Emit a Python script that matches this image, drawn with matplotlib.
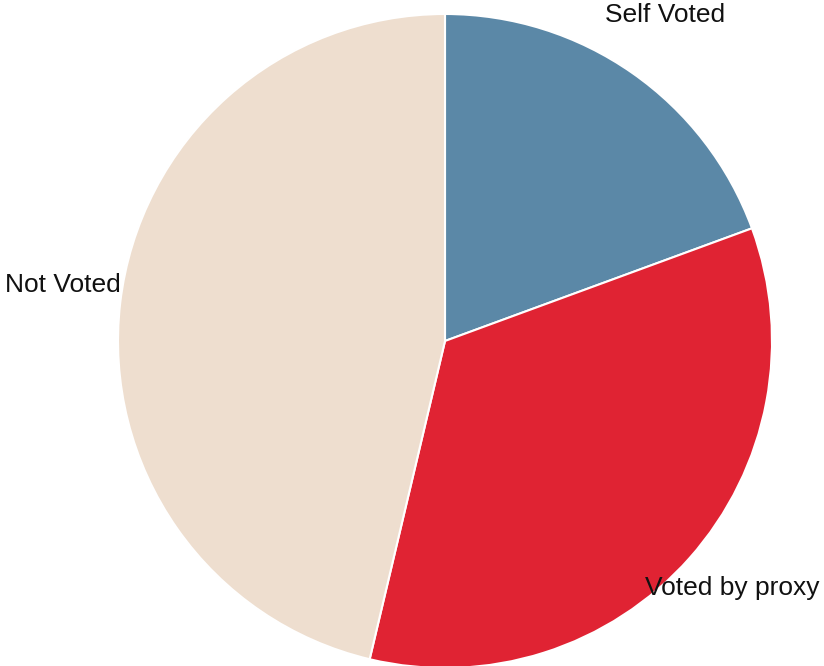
import matplotlib.pyplot as plt

# 数据
labels = ['Self Voted', 'Voted by proxy', 'Not Voted']
values = [19.4, 34.3, 46.3]
colors = ['#5b88a7', '#e02333', '#eedecf']

plt.rcParams['font.family'] = ['Liberation Sans', 'DejaVu Sans']

fig = plt.figure(figsize=(8.24, 6.66), dpi=100)
ax = fig.add_axes([0, 0, 1, 1])

# 饼图（从12点方向顺时针）
ax.pie(values, colors=colors, startangle=90, counterclock=False,
       center=(445, 325), radius=327, frame=True,
       wedgeprops=dict(edgecolor='white', linewidth=1.5))
ax.set_xlim(0, 824)
ax.set_ylim(0, 666)
ax.set_aspect('equal')
ax.axis('off')

# 标签
label_pos = [(665, 651, 'center'), (645, 78, 'left'), (121, 381, 'right')]
for text, (x, y, ha) in zip(labels, label_pos):
    ax.text(x, y, text, ha=ha, va='center', fontsize=19, color='#111111')

fig.savefig('out.png', dpi=100)
